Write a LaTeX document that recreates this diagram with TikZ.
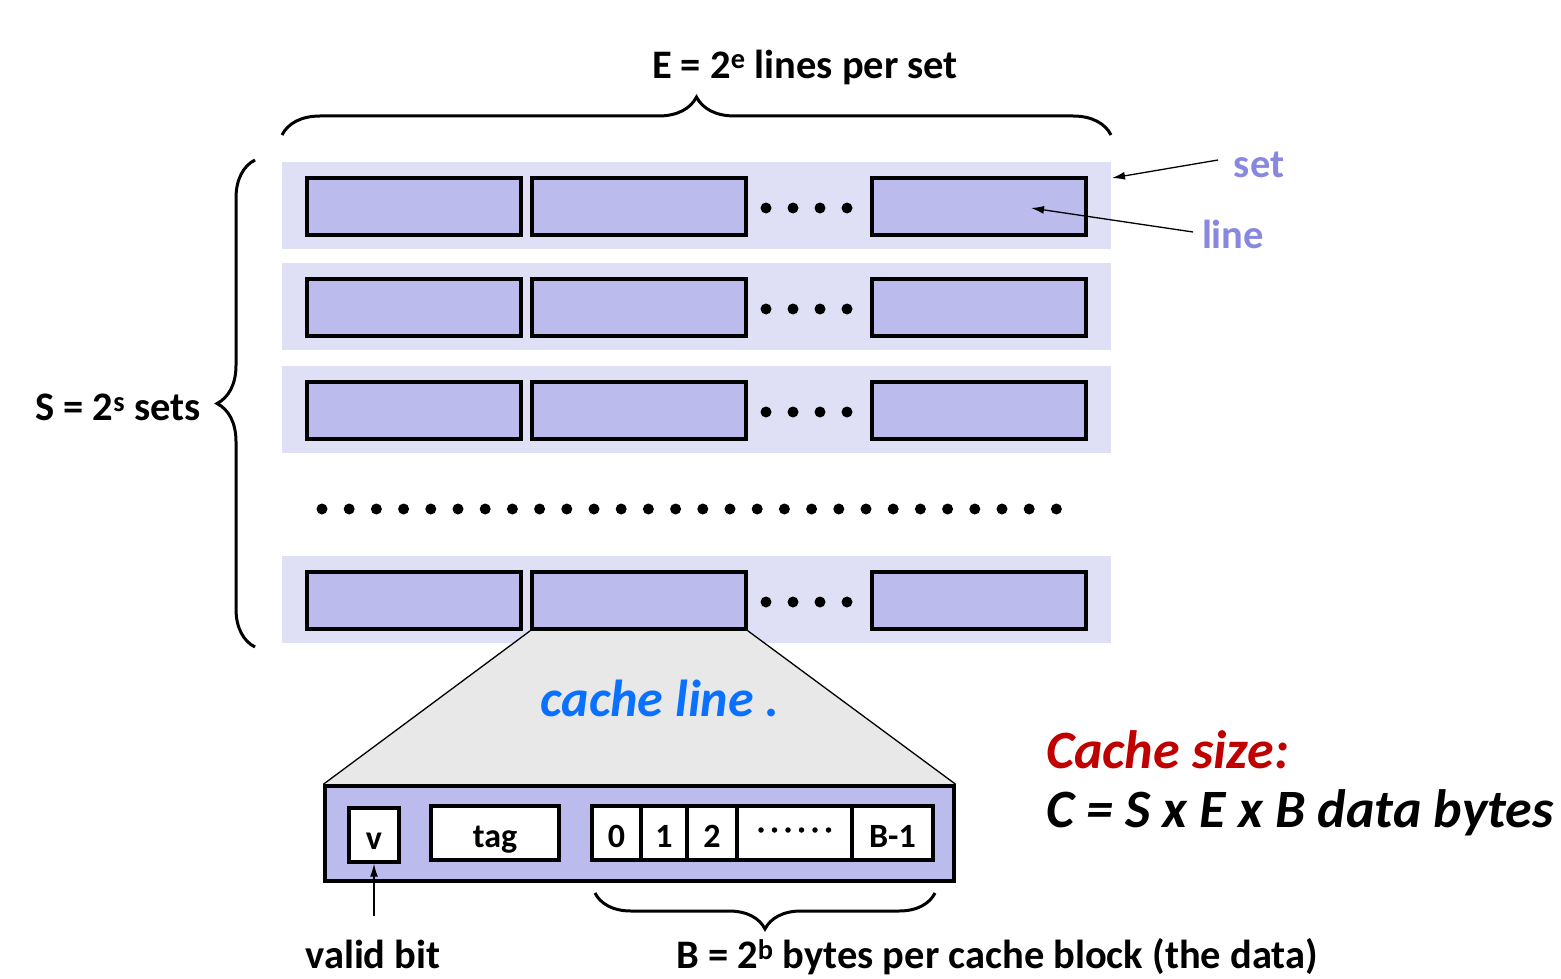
\documentclass[tikz,border=0pt]{standalone}
\usepackage{fontspec}
\setmainfont{Carlito}
\usetikzlibrary{decorations.pathreplacing,arrows.meta}
\definecolor{setbg}{RGB}{223,223,245}
\definecolor{linefill}{RGB}{187,187,238}
\definecolor{lbl}{RGB}{136,136,224}
\definecolor{zoomgray}{RGB}{232,232,232}
\definecolor{pen}{RGB}{10,112,255}
\definecolor{sizered}{RGB}{192,0,0}
\begin{document}
\begin{tikzpicture}[x=1pt,y=-1pt,
  setrow/.style={fill=setbg,draw=none,minimum width=829pt,minimum height=87pt,inner sep=0pt},
  lineblk/.style={fill=linefill,draw=black,line width=3.4pt,minimum width=214pt,minimum height=57pt,inner sep=0pt},
  cell/.style={fill=white,draw=black,line width=3.4pt,minimum height=54pt,inner sep=0pt,
    text height=28pt,text depth=0pt,font=\fontsize{34}{38}\selectfont\bfseries},
  dot/.style={fill=black,circle,inner sep=0pt,minimum size=11pt},
  smalldot/.style={fill=black,circle,inner sep=0pt,minimum size=5.5pt},
  lab/.style={font=\fontsize{40.5}{46}\selectfont\bfseries,inner sep=0pt},
  bracepath/.style={decorate,decoration={brace,amplitude=38pt},line width=3pt},
  pointer/.style={-{Latex[length=13pt,width=8pt]},line width=1.3pt}]
\useasboundingbox (0,0) rectangle (1561,979);

% sets with their lines
\foreach \r/\y in {1/205.5,2/306.5,3/409.5,5/599.5}{
  \node[setrow] (S\r) at (696.5,\y) {};
  \node[lineblk] (L\r1) at (414,\y+1) {};
  \node[lineblk] (L\r2) at (639,\y+1) {};
  \node[lineblk] (L\r3) at (979,\y+1) {};
  \foreach \i/\x in {1/766,2/793,3/820,4/847}
    \node[dot] (D\r\i) at (\x,\y+2.5) {};
}

% row of elided sets
\foreach \i in {0,...,27}
  \node[dot] (E\i) at (322+27.2*\i,509) {};

% braces and their labels
\coordinate (TL) at (282,135);
\coordinate (TR) at (1111,135);
\draw[bracepath] (TL) -- (TR);
\node[lab] (Elab) at (805,67) {E = 2\textsuperscript{e} lines per set};

\coordinate (LB) at (255,647);
\coordinate (LT) at (255,160);
\draw[bracepath] (LB) -- (LT);
\node[lab,anchor=east] (Slab) at (201,407) {S = 2\textsuperscript{s} sets};

% set / line pointers
\node[lab,text=lbl] (setlab) at (1259,165) {set};
\node[lab,text=lbl] (linelab) at (1233,234) {line};
\coordinate (setA) at (1218,160);
\coordinate (lineA) at (1193,232);
\coordinate (setT) at (1112,178);
\coordinate (lineT) at (1031,208);
\draw[pointer] (setA) -- (setT);
\draw[pointer] (lineA) -- (lineT);

% expanded cache line
\node[fill=linefill,draw=black,line width=3.4pt,minimum width=629pt,minimum height=95pt,inner sep=0pt] (CL) at (639.5,833.5) {};
\fill[zoomgray] (L52.south west) -- (L52.south east) -- (CL.north east) -- (CL.north west) -- cycle;
\draw[line width=1.3pt] (L52.south west) -- (CL.north west);
\draw[line width=1.3pt] (L52.south east) -- (CL.north east);
\node[lineblk] at (L52) {};
\node[fill=linefill,draw=black,line width=3.4pt,minimum width=629pt,minimum height=95pt,inner sep=0pt] (CLbox) at (CL) {};

\node[cell,minimum width=50pt] (v) at (374,835) {v};
\node[cell,minimum width=128pt] (tag) at (495,833) {tag};
\node[cell,minimum width=49pt] (b0) at (616.5,833) {0};
\node[cell,minimum width=46pt] (b1) at (664,833) {1};
\node[cell,minimum width=50pt] (b2) at (712,833) {2};
\node[cell,minimum width=115pt] (bd) at (794.5,833) {};
\node[cell,minimum width=81pt] (bl) at (892.5,833) {B-1};
\foreach \i in {0,...,5}
  \node[smalldot] (bd\i) at (761+13.5*\i,830) {};

\node[font=\fontsize{52}{58}\selectfont\itshape\bfseries,text=pen,inner sep=0pt] (hand) at (660,698) {cache line .};

% valid bit pointer
\coordinate (vA) at (374,916);
\draw[pointer] (vA) -- (v.south);
\node[lab] (vlab) at (373,954) {valid bit};

% block brace
\coordinate (BR) at (935,893);
\coordinate (BL) at (595,893);
\draw[bracepath,decoration={brace,amplitude=36pt}] (BR) -- (BL);
\node[lab,anchor=west] (Blab) at (676,957) {B = 2\textsuperscript{b} bytes per cache block (the data)};

% cache size formula
\node[font=\fontsize{54}{60}\selectfont\bfseries\itshape,text=sizered,anchor=west,inner sep=0pt] (cs) at (1046,750) {Cache size:};
\node[font=\fontsize{54}{60}\selectfont\bfseries\itshape,anchor=west,inner sep=0pt] (cf) at (1046,813) {C = S x E x B data bytes};
\end{tikzpicture}
\end{document}
